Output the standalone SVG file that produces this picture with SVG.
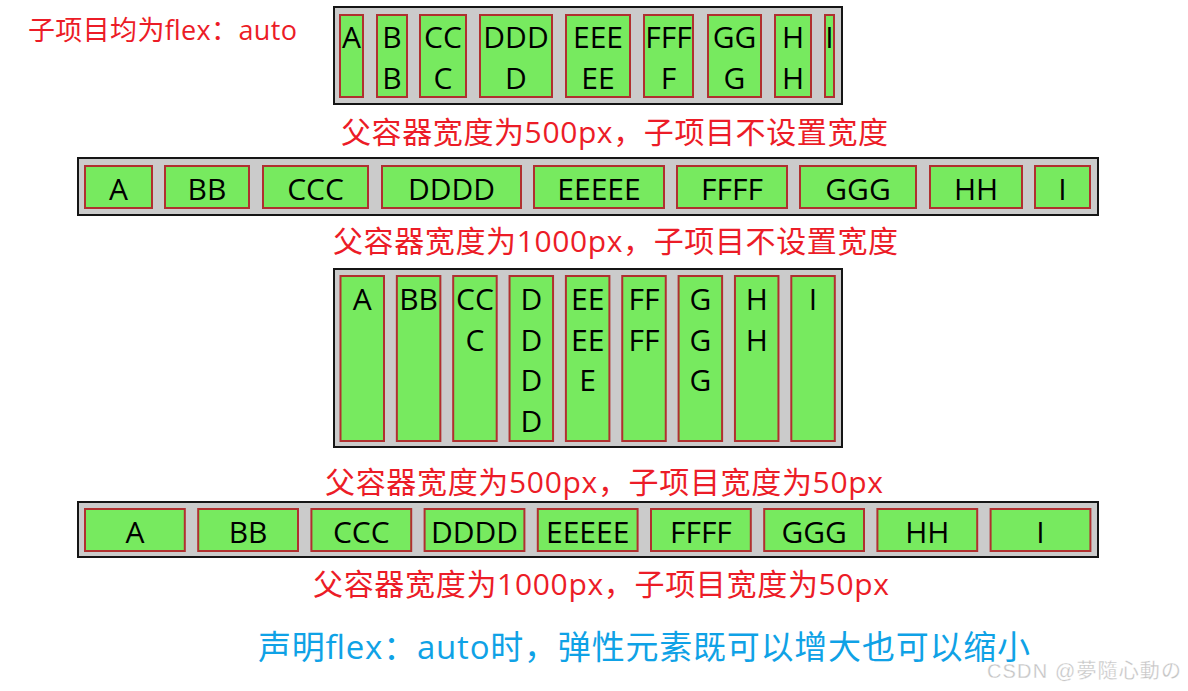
<svg xmlns="http://www.w3.org/2000/svg" width="1188" height="691" viewBox="0 0 1188 691">
<style>
.bg{fill:#ffffff}
.c{fill:#cbcbcb;stroke:#151515;stroke-width:2}
.i{fill:#77ea5f;stroke:#b0302f;stroke-width:2}
.t{font-family:"Open Sans","Noto Sans",sans-serif;font-size:30px;fill:#000;text-anchor:middle}
.r{font-family:"Open Sans","Noto Sans CJK SC",sans-serif;font-size:30px;fill:#ec1c27;text-anchor:middle}
.b{font-family:"Open Sans","Noto Sans CJK SC",sans-serif;font-size:33px;fill:#0fa2e6;text-anchor:middle}
.w{font-family:"Liberation Sans","Noto Sans CJK JP",sans-serif;font-size:20px;fill:#c4c4c4;stroke:#ffffff;stroke-width:0.3}
</style>
<rect class="bg" x="0" y="0" width="1188" height="691"/>

<g id="label-top">
<text class="r" x="162.5" y="40" style="font-size:27px" textLength="269" lengthAdjust="spacing">子项目均为flex：auto</text>
</g>

<g id="row1">
<rect class="c" x="334" y="7" width="508" height="97"/>
<g id="r1-A"><rect class="i" x="340" y="15" width="23" height="82"/><text class="t" x="351.5" y="47.5">A</text></g>
<g id="r1-B"><rect class="i" x="377" y="15" width="30" height="82"/><text class="t" x="392" y="47.5">B</text><text class="t" x="392" y="88.5">B</text></g>
<g id="r1-C"><rect class="i" x="420" y="15" width="46" height="82"/><text class="t" x="443" y="47.5">CC</text><text class="t" x="443" y="88.5">C</text></g>
<g id="r1-D"><rect class="i" x="480" y="15" width="72" height="82"/><text class="t" x="516" y="47.5">DDD</text><text class="t" x="516" y="88.5">D</text></g>
<g id="r1-E"><rect class="i" x="566" y="15" width="64" height="82"/><text class="t" x="598" y="47.5">EEE</text><text class="t" x="598" y="88.5">EE</text></g>
<g id="r1-F"><rect class="i" x="644" y="15" width="49" height="82"/><text class="t" x="668.5" y="47.5">FFF</text><text class="t" x="668.5" y="88.5">F</text></g>
<g id="r1-G"><rect class="i" x="708" y="15" width="53" height="82"/><text class="t" x="734.5" y="47.5">GG</text><text class="t" x="734.5" y="88.5">G</text></g>
<g id="r1-H"><rect class="i" x="775" y="15" width="36" height="82"/><text class="t" x="793" y="47.5">H</text><text class="t" x="793" y="88.5">H</text></g>
<g id="r1-I"><rect class="i" x="825" y="15" width="9" height="82"/><text class="t" x="829.5" y="47.5">I</text></g>
</g>

<g id="label-1">
<text class="r" x="614.5" y="143" textLength="547" lengthAdjust="spacing">父容器宽度为500px，子项目不设置宽度</text>
</g>

<g id="row2">
<rect class="c" x="78" y="158" width="1020" height="57"/>
<g id="r2-A"><rect class="i" x="85" y="166" width="67" height="42"/><text class="t" x="118.5" y="199.5">A</text></g>
<g id="r2-B"><rect class="i" x="165" y="166" width="84" height="42"/><text class="t" x="207" y="199.5">BB</text></g>
<g id="r2-C"><rect class="i" x="263" y="166" width="105" height="42"/><text class="t" x="315.5" y="199.5">CCC</text></g>
<g id="r2-D"><rect class="i" x="382" y="166" width="139" height="42"/><text class="t" x="451.5" y="199.5">DDDD</text></g>
<g id="r2-E"><rect class="i" x="534" y="166" width="130" height="42"/><text class="t" x="599" y="199.5">EEEEE</text></g>
<g id="r2-F"><rect class="i" x="677" y="166" width="110" height="42"/><text class="t" x="732" y="199.5">FFFF</text></g>
<g id="r2-G"><rect class="i" x="800" y="166" width="116" height="42"/><text class="t" x="858" y="199.5">GGG</text></g>
<g id="r2-H"><rect class="i" x="930" y="166" width="92" height="42"/><text class="t" x="976" y="199.5">HH</text></g>
<g id="r2-I"><rect class="i" x="1035" y="166" width="55" height="42"/><text class="t" x="1062.5" y="199.5">I</text></g>
</g>

<g id="label-2">
<text class="r" x="615.5" y="252" textLength="565" lengthAdjust="spacing">父容器宽度为1000px，子项目不设置宽度</text>
</g>

<g id="row3">
<rect class="c" x="334" y="269" width="508" height="178"/>
<g id="r3-A"><rect class="i" x="340.5" y="276" width="43.5" height="165"/><text class="t" x="362.25" y="310">A</text></g>
<g id="r3-B"><rect class="i" x="396.85" y="276" width="43.5" height="165"/><text class="t" x="418.6" y="310">BB</text></g>
<g id="r3-C"><rect class="i" x="453.2" y="276" width="43.5" height="165"/><text class="t" x="474.95" y="310">CC</text><text class="t" x="474.95" y="350.5">C</text></g>
<g id="r3-D"><rect class="i" x="509.55" y="276" width="43.5" height="165"/><text class="t" x="531.3" y="310">D</text><text class="t" x="531.3" y="350.5">D</text><text class="t" x="531.3" y="391">D</text><text class="t" x="531.3" y="431.5">D</text></g>
<g id="r3-E"><rect class="i" x="565.9" y="276" width="43.5" height="165"/><text class="t" x="587.65" y="310">EE</text><text class="t" x="587.65" y="350.5">EE</text><text class="t" x="587.65" y="391">E</text></g>
<g id="r3-F"><rect class="i" x="622.25" y="276" width="43.5" height="165"/><text class="t" x="644" y="310">FF</text><text class="t" x="644" y="350.5">FF</text></g>
<g id="r3-G"><rect class="i" x="678.6" y="276" width="43.5" height="165"/><text class="t" x="700.35" y="310">G</text><text class="t" x="700.35" y="350.5">G</text><text class="t" x="700.35" y="391">G</text></g>
<g id="r3-H"><rect class="i" x="734.95" y="276" width="43.5" height="165"/><text class="t" x="756.7" y="310">H</text><text class="t" x="756.7" y="350.5">H</text></g>
<g id="r3-I"><rect class="i" x="791.3" y="276" width="43.5" height="165"/><text class="t" x="813.05" y="310">I</text></g>
</g>

<g id="label-3">
<text class="r" x="604" y="493" textLength="558" lengthAdjust="spacing">父容器宽度为500px，子项目宽度为50px</text>
</g>

<g id="row4">
<rect class="c" x="78" y="502" width="1020" height="55"/>
<g id="r4-A"><rect class="i" x="85" y="509" width="99.8" height="42"/><text class="t" x="134.9" y="542.5">A</text></g>
<g id="r4-B"><rect class="i" x="198.2" y="509" width="99.8" height="42"/><text class="t" x="248.1" y="542.5">BB</text></g>
<g id="r4-C"><rect class="i" x="311.4" y="509" width="99.8" height="42"/><text class="t" x="361.3" y="542.5">CCC</text></g>
<g id="r4-D"><rect class="i" x="424.6" y="509" width="99.8" height="42"/><text class="t" x="474.5" y="542.5">DDDD</text></g>
<g id="r4-E"><rect class="i" x="537.8" y="509" width="99.8" height="42"/><text class="t" x="587.7" y="542.5">EEEEE</text></g>
<g id="r4-F"><rect class="i" x="651" y="509" width="99.8" height="42"/><text class="t" x="700.9" y="542.5">FFFF</text></g>
<g id="r4-G"><rect class="i" x="764.2" y="509" width="99.8" height="42"/><text class="t" x="814.1" y="542.5">GGG</text></g>
<g id="r4-H"><rect class="i" x="877.4" y="509" width="99.8" height="42"/><text class="t" x="927.3" y="542.5">HH</text></g>
<g id="r4-I"><rect class="i" x="990.6" y="509" width="99.8" height="42"/><text class="t" x="1040.5" y="542.5">I</text></g>
</g>

<g id="label-4">
<text class="r" x="601" y="595" textLength="576" lengthAdjust="spacing">父容器宽度为1000px，子项目宽度为50px</text>
</g>

<g id="summary">
<text class="b" x="644" y="659" textLength="772" lengthAdjust="spacing">声明flex：auto时，弹性元素既可以增大也可以缩小</text>
</g>

<g id="watermark">
<text class="w" x="987" y="678" textLength="194" lengthAdjust="spacing">CSDN @夢隨心動の</text>
</g>

<g id="connectors"></g>
</svg>
